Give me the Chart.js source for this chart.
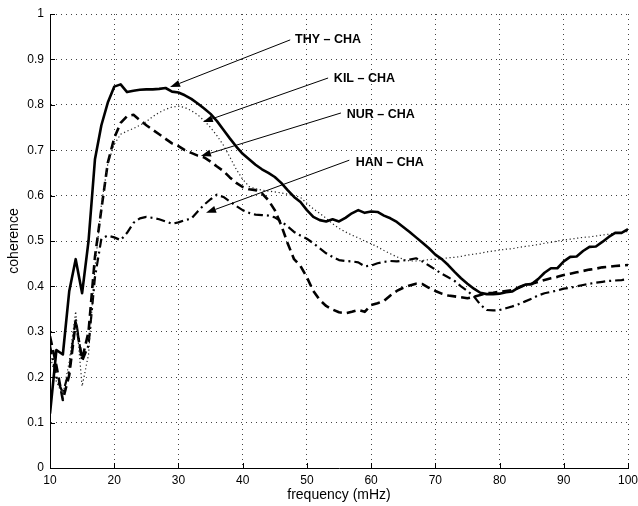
<!DOCTYPE html>
<html><head><meta charset="utf-8">
<style>html,body{margin:0;padding:0;background:#fff}#wrap{width:638px;height:506px}</style>
<script src="https://cdn.jsdelivr.net/npm/chart.js@4.4.0/dist/chart.umd.min.js"></script>
</head><body><div id="wrap"><canvas id="c" width="638" height="506"></canvas></div>
<script>
const freq = [10,11,12,13,14,15,16,17,18,19,20,21,22,23,24,25,26,27,28,29,30,31,32,33,34,35,36,37,38,39,40,41,42,43,44,45,46,47,48,49,50,51,52,53,54,55,56,57,58,59,60,61,62,63,64,65,66,67,68,69,70,71,72,73,74,75,76,77,78,79,80,81,82,83,84,85,86,87,88,89,90,91,92,93,94,95,96,97,98,99,100];
const thyCha = [0.12,0.26,0.25,0.39,0.46,0.385,0.50,0.68,0.755,0.805,0.84,0.845,0.828,0.831,0.833,0.834,0.834,0.835,0.837,0.829,0.827,0.821,0.813,0.803,0.792,0.78,0.764,0.745,0.726,0.708,0.692,0.68,0.668,0.658,0.65,0.641,0.628,0.612,0.597,0.586,0.568,0.553,0.546,0.543,0.548,0.543,0.551,0.561,0.568,0.562,0.565,0.564,0.556,0.55,0.542,0.531,0.52,0.508,0.496,0.484,0.47,0.46,0.447,0.432,0.418,0.406,0.395,0.386,0.383,0.383,0.384,0.387,0.389,0.398,0.404,0.405,0.416,0.43,0.44,0.44,0.455,0.465,0.466,0.478,0.487,0.488,0.498,0.509,0.518,0.518,0.526];
const kilCha = [0.25,0.19,0.16,0.235,0.345,0.18,0.25,0.44,0.58,0.67,0.713,0.735,0.742,0.748,0.755,0.763,0.774,0.783,0.79,0.795,0.797,0.794,0.787,0.778,0.765,0.75,0.732,0.711,0.685,0.658,0.636,0.62,0.615,0.612,0.61,0.608,0.606,0.603,0.6,0.596,0.583,0.571,0.561,0.55,0.538,0.528,0.52,0.513,0.507,0.5,0.494,0.487,0.479,0.472,0.465,0.46,0.456,0.456,0.457,0.459,0.46,0.461,0.463,0.464,0.466,0.469,0.471,0.473,0.476,0.478,0.48,0.482,0.483,0.486,0.488,0.49,0.492,0.495,0.497,0.5,0.502,0.504,0.506,0.508,0.509,0.511,0.513,0.515,0.517,0.519,0.521];
const nurCha = [0.29,0.225,0.15,0.205,0.32,0.24,0.30,0.465,0.57,0.672,0.727,0.76,0.775,0.778,0.766,0.755,0.745,0.735,0.725,0.715,0.709,0.70,0.694,0.688,0.684,0.675,0.664,0.654,0.64,0.628,0.619,0.614,0.612,0.605,0.59,0.568,0.535,0.495,0.46,0.445,0.42,0.39,0.37,0.357,0.349,0.343,0.341,0.344,0.348,0.344,0.359,0.363,0.368,0.38,0.39,0.397,0.402,0.406,0.405,0.397,0.39,0.384,0.38,0.378,0.376,0.374,0.377,0.381,0.385,0.386,0.388,0.39,0.392,0.397,0.403,0.406,0.41,0.414,0.418,0.421,0.425,0.428,0.431,0.434,0.437,0.439,0.442,0.443,0.445,0.446,0.447];
const hanCha = [0.27,0.2,0.165,0.215,0.33,0.235,0.27,0.42,0.505,0.512,0.508,0.502,0.518,0.54,0.55,0.553,0.551,0.548,0.543,0.538,0.541,0.546,0.549,0.565,0.58,0.592,0.602,0.597,0.587,0.577,0.568,0.562,0.558,0.557,0.556,0.552,0.543,0.532,0.52,0.512,0.505,0.495,0.484,0.473,0.465,0.458,0.456,0.455,0.453,0.444,0.446,0.451,0.454,0.456,0.455,0.457,0.459,0.462,0.455,0.446,0.437,0.428,0.42,0.412,0.4,0.39,0.378,0.36,0.348,0.347,0.348,0.352,0.356,0.361,0.367,0.373,0.38,0.385,0.388,0.391,0.395,0.397,0.4,0.403,0.406,0.408,0.41,0.412,0.413,0.414,0.416];
const xTickLabels = ['10','20','30','40','50','60','70','80','90','100'];
const yTickLabels = ['0','0.1','0.2','0.3','0.4','0.5','0.6','0.7','0.8','0.9','1'];
const annLabels = ['THY – CHA','KIL – CHA','NUR – CHA','HAN – CHA'];
const annTextAt = [[48.15,0.943],[54.2,0.857],[56.2,0.778],[57.6,0.672]];
const annTailAt = [[47.4,0.943],[53.3,0.859],[55.3,0.782],[56.6,0.678]];
const annTipAt = [[28.7,0.839],[33.8,0.762],[33.5,0.687],[34.3,0.562]];

const FONT = '"Liberation Sans", Arial, Helvetica, sans-serif';
const toPts = ys => ys.map((y, i) => ({x: freq[i], y}));

const overlay = {
  id: 'overlay',
  afterDatasetsDraw(chart) {
    const {ctx, chartArea: a, scales: {x, y}} = chart;
    ctx.save();
    ctx.strokeStyle = '#000'; ctx.lineWidth = 1;
    ctx.beginPath();
    x.ticks.forEach(t => { const px = Math.round(x.getPixelForValue(t.value)) + 0.5; ctx.moveTo(px, a.bottom); ctx.lineTo(px, a.bottom - 5); });
    y.ticks.forEach(t => { const py = Math.round(y.getPixelForValue(t.value)) + 0.5; ctx.moveTo(a.left, py); ctx.lineTo(a.left + 5, py); });
    ctx.stroke();
    ctx.fillStyle = '#000';
    ctx.font = 'bold 12.5px ' + FONT;
    ctx.textBaseline = 'middle'; ctx.textAlign = 'left';
    annLabels.forEach((lab, i) => {
      const tx = x.getPixelForValue(annTailAt[i][0]), ty = y.getPixelForValue(annTailAt[i][1]);
      const hx = x.getPixelForValue(annTipAt[i][0]), hy = y.getPixelForValue(annTipAt[i][1]);
      const ang = Math.atan2(hy - ty, hx - tx);
      const L = 10, W = 3.5;
      const bx = hx - L * Math.cos(ang), by = hy - L * Math.sin(ang);
      ctx.beginPath(); ctx.moveTo(tx, ty); ctx.lineTo(bx, by); ctx.lineWidth = 1; ctx.stroke();
      ctx.beginPath();
      ctx.moveTo(hx, hy);
      ctx.lineTo(bx + W * Math.sin(ang), by - W * Math.cos(ang));
      ctx.lineTo(bx - W * Math.sin(ang), by + W * Math.cos(ang));
      ctx.closePath(); ctx.fill();
      ctx.fillText(lab, x.getPixelForValue(annTextAt[i][0]), y.getPixelForValue(annTextAt[i][1]));
    });
    ctx.restore();
  }
};

new Chart(document.getElementById('c'), {
  type: 'line',
  data: {
    datasets: [
      {label: 'THY – CHA', data: toPts(thyCha), borderColor: '#000', borderWidth: 2.6},
      {label: 'KIL – CHA', data: toPts(kilCha), borderColor: '#222', borderWidth: 1.2, borderDash: [1.2, 2.6]},
      {label: 'NUR – CHA', data: toPts(nurCha), borderColor: '#000', borderWidth: 2.6, borderDash: [9, 5]},
      {label: 'HAN – CHA', data: toPts(hanCha), borderColor: '#000', borderWidth: 2.2, borderDash: [9, 4, 2, 4]}
    ]
  },
  options: {
    responsive: false, animation: false, devicePixelRatio: 1,
    layout: {autoPadding: false, padding: {top: 14, right: 10, left: 0, bottom: 0}},
    elements: {point: {radius: 0}, line: {tension: 0, fill: false, borderCapStyle: 'butt', borderJoinStyle: 'round'}},
    plugins: {legend: {display: false}, tooltip: {enabled: false}},
    scales: {
      x: {
        type: 'linear', min: 10, max: 100,
        afterFit(s) { s.height = 38; s.paddingLeft = 0; s.paddingRight = 0; s.paddingTop = 0; s.paddingBottom = 0; },
        ticks: {stepSize: 10, color: '#000', padding: 5, font: {family: FONT, size: 12},
          callback: (v) => { const i = Math.round((v - 10) / 10); return xTickLabels[i]; }},
        grid: {color: '#444', lineWidth: 1, drawTicks: false},
        border: {display: true, color: '#000', width: 1, dash: [1, 4]},
        title: {display: true, text: 'frequency (mHz)', color: '#000', font: {family: FONT, size: 14}, padding: {top: 0, bottom: 2}}
      },
      y: {
        type: 'linear', min: 0, max: 1,
        afterFit(s) { s.width = 50; s.paddingLeft = 0; s.paddingRight = 0; s.paddingTop = 0; s.paddingBottom = 0; },
        ticks: {stepSize: 0.1, color: '#000', padding: 6, font: {family: FONT, size: 12},
          callback: (v) => yTickLabels[Math.round(v * 10)]},
        grid: {color: '#444', lineWidth: 1, drawTicks: false},
        border: {display: true, color: '#000', width: 1, dash: [1, 4]},
        title: {display: true, text: 'coherence', color: '#000', font: {family: FONT, size: 14}, padding: {top: 6, bottom: 0}}
      }
    }
  },
  plugins: [overlay]
});
</script>
</body></html>
